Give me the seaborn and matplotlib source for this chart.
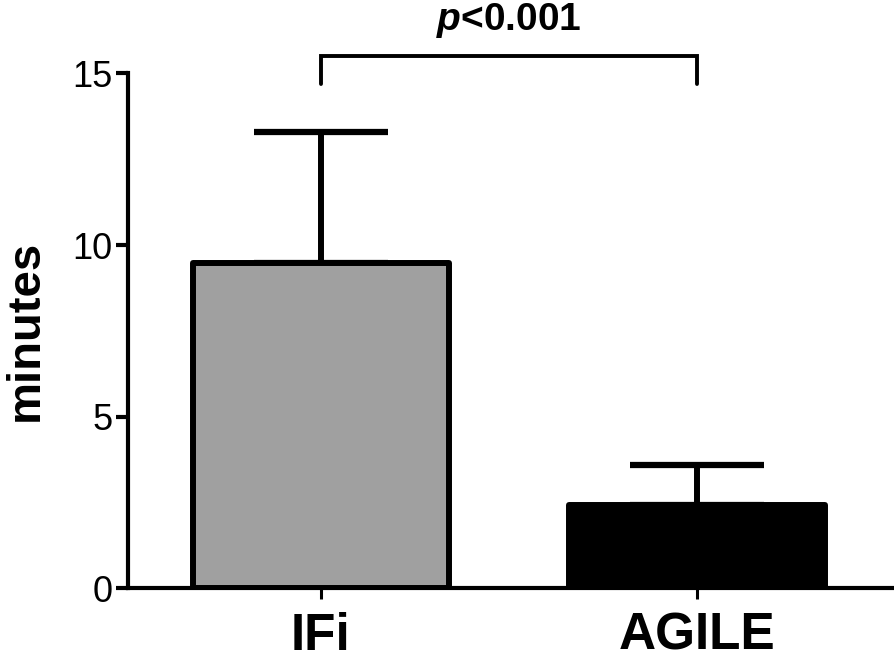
import numpy as np
import pandas as pd
import matplotlib
matplotlib.use('Agg')
import matplotlib.pyplot as plt
import seaborn as sns

# values
groups = ['IFi', 'AGILE']
means = [9.47, 2.42]
sds = [3.81, 1.16]
bar_colors = ['#a0a0a0', '#000000']
p_text = '<0.001'

df = pd.DataFrame({'group': groups, 'minutes': means})

sns.set_style('ticks')
plt.rcParams['font.family'] = ['Liberation Sans', 'DejaVu Sans']
plt.rcParams.update({
    'mathtext.fontset': 'custom',
    'mathtext.rm': 'Liberation Sans',
    'mathtext.bf': 'Liberation Sans:bold',
    'mathtext.it': 'Liberation Sans:italic',
    'mathtext.bfit': 'Liberation Sans:italic:bold',
})

fig = plt.figure(figsize=(8.94, 6.67), dpi=100)
ax = fig.add_axes([0.143, 0.118, 0.857, 0.772])

sns.barplot(data=df, x='group', y='minutes', hue='group', palette=bar_colors,
            width=0.68, edgecolor='black', linewidth=4.3, legend=False, ax=ax,
            zorder=3)
for p in ax.patches:
    p.set_joinstyle('round')

# upper error bars only
ax.errorbar(x=np.arange(len(groups)), y=means, yerr=[np.zeros(len(sds)), sds],
            fmt='none', ecolor='black', elinewidth=4.3, capsize=48, capthick=4.5,
            zorder=2)

ax.set_ylim(0, 15)
ax.set_xlim(-0.513, 1.524)
ax.set_yticks([0, 5, 10, 15])
ax.set_yticklabels(['0', '5', '10', '15'], fontsize=26, color='black')
ax.set_xticks(range(len(groups)))
ax.set_xticklabels(groups, fontsize=37, fontweight='bold', color='black')
ax.set_xlabel('')
ax.set_ylabel('minutes', fontsize=34, fontweight='bold', labelpad=18, color='black')

ax.tick_params(axis='y', length=9, width=3, pad=2, color='black')
ax.tick_params(axis='x', length=8, width=2.2, pad=9, color='black')
sns.despine(ax=ax)
for side in ['left', 'bottom']:
    ax.spines[side].set_linewidth(3)
    ax.spines[side].set_color('black')

# significance bracket
yb = 15.5
yl = 14.7
ax.plot([0, 0, 1, 1], [yl, yb, yb, yl], color='black', lw=2.8, clip_on=False,
        solid_joinstyle='miter')
ax.text(0.5, 16.25, r'$\bfit{p}$' + p_text, ha='center', va='baseline',
        fontsize=28, fontweight='bold', color='black')

fig.savefig('out.png', dpi=100)
